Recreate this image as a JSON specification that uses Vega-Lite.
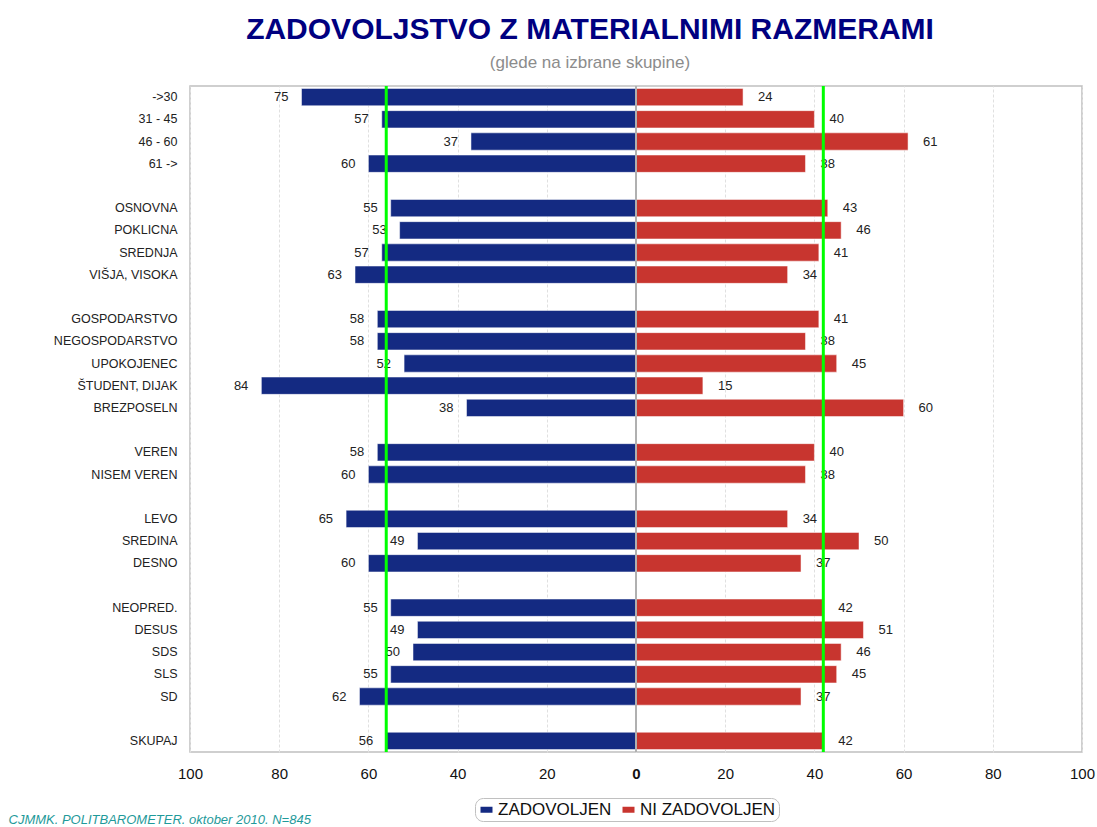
{
  "$schema": "https://vega.github.io/schema/vega-lite/v6.json",
  "width": 892,
  "height": 666,
  "autosize": {"type": "none"},
  "padding": {"left": 190, "top": 86, "right": 15, "bottom": 75},
  "background": "white",
  "config": {
    "view": {"stroke": "#c0c0c0", "strokeWidth": 1.5},
    "font": "Liberation Sans"
  },
  "title": {
    "text": "ZADOVOLJSTVO Z MATERIALNIMI RAZMERAMI",
    "subtitle": "(glede na izbrane skupine)",
    "anchor": "middle",
    "dx": -46,
    "fontSize": 30,
    "font": "Liberation Sans",
    "fontWeight": "bold",
    "color": "#000080",
    "subtitleFont": "Liberation Sans",
    "subtitleFontSize": 17,
    "subtitleColor": "#8c8c8c",
    "subtitlePadding": 10,
    "offset": 14
  },
  "data": {
    "values": [
      {"cat": "->30", "s": "ZADOVOLJEN", "x": -75, "v": 75},
      {"cat": "->30", "s": "NI ZADOVOLJEN", "x": 24, "v": 24},
      {"cat": "31 - 45", "s": "ZADOVOLJEN", "x": -57, "v": 57},
      {"cat": "31 - 45", "s": "NI ZADOVOLJEN", "x": 40, "v": 40},
      {"cat": "46 - 60", "s": "ZADOVOLJEN", "x": -37, "v": 37},
      {"cat": "46 - 60", "s": "NI ZADOVOLJEN", "x": 61, "v": 61},
      {"cat": "61 ->", "s": "ZADOVOLJEN", "x": -60, "v": 60},
      {"cat": "61 ->", "s": "NI ZADOVOLJEN", "x": 38, "v": 38},
      {"cat": "OSNOVNA", "s": "ZADOVOLJEN", "x": -55, "v": 55},
      {"cat": "OSNOVNA", "s": "NI ZADOVOLJEN", "x": 43, "v": 43},
      {"cat": "POKLICNA", "s": "ZADOVOLJEN", "x": -53, "v": 53},
      {"cat": "POKLICNA", "s": "NI ZADOVOLJEN", "x": 46, "v": 46},
      {"cat": "SREDNJA", "s": "ZADOVOLJEN", "x": -57, "v": 57},
      {"cat": "SREDNJA", "s": "NI ZADOVOLJEN", "x": 41, "v": 41},
      {"cat": "VIŠJA, VISOKA", "s": "ZADOVOLJEN", "x": -63, "v": 63},
      {"cat": "VIŠJA, VISOKA", "s": "NI ZADOVOLJEN", "x": 34, "v": 34},
      {"cat": "GOSPODARSTVO", "s": "ZADOVOLJEN", "x": -58, "v": 58},
      {"cat": "GOSPODARSTVO", "s": "NI ZADOVOLJEN", "x": 41, "v": 41},
      {"cat": "NEGOSPODARSTVO", "s": "ZADOVOLJEN", "x": -58, "v": 58},
      {"cat": "NEGOSPODARSTVO", "s": "NI ZADOVOLJEN", "x": 38, "v": 38},
      {"cat": "UPOKOJENEC", "s": "ZADOVOLJEN", "x": -52, "v": 52},
      {"cat": "UPOKOJENEC", "s": "NI ZADOVOLJEN", "x": 45, "v": 45},
      {"cat": "ŠTUDENT, DIJAK", "s": "ZADOVOLJEN", "x": -84, "v": 84},
      {"cat": "ŠTUDENT, DIJAK", "s": "NI ZADOVOLJEN", "x": 15, "v": 15},
      {"cat": "BREZPOSELN", "s": "ZADOVOLJEN", "x": -38, "v": 38},
      {"cat": "BREZPOSELN", "s": "NI ZADOVOLJEN", "x": 60, "v": 60},
      {"cat": "VEREN", "s": "ZADOVOLJEN", "x": -58, "v": 58},
      {"cat": "VEREN", "s": "NI ZADOVOLJEN", "x": 40, "v": 40},
      {"cat": "NISEM VEREN", "s": "ZADOVOLJEN", "x": -60, "v": 60},
      {"cat": "NISEM VEREN", "s": "NI ZADOVOLJEN", "x": 38, "v": 38},
      {"cat": "LEVO", "s": "ZADOVOLJEN", "x": -65, "v": 65},
      {"cat": "LEVO", "s": "NI ZADOVOLJEN", "x": 34, "v": 34},
      {"cat": "SREDINA", "s": "ZADOVOLJEN", "x": -49, "v": 49},
      {"cat": "SREDINA", "s": "NI ZADOVOLJEN", "x": 50, "v": 50},
      {"cat": "DESNO", "s": "ZADOVOLJEN", "x": -60, "v": 60},
      {"cat": "DESNO", "s": "NI ZADOVOLJEN", "x": 37, "v": 37},
      {"cat": "NEOPRED.", "s": "ZADOVOLJEN", "x": -55, "v": 55},
      {"cat": "NEOPRED.", "s": "NI ZADOVOLJEN", "x": 42, "v": 42},
      {"cat": "DESUS", "s": "ZADOVOLJEN", "x": -49, "v": 49},
      {"cat": "DESUS", "s": "NI ZADOVOLJEN", "x": 51, "v": 51},
      {"cat": "SDS", "s": "ZADOVOLJEN", "x": -50, "v": 50},
      {"cat": "SDS", "s": "NI ZADOVOLJEN", "x": 46, "v": 46},
      {"cat": "SLS", "s": "ZADOVOLJEN", "x": -55, "v": 55},
      {"cat": "SLS", "s": "NI ZADOVOLJEN", "x": 45, "v": 45},
      {"cat": "SD", "s": "ZADOVOLJEN", "x": -62, "v": 62},
      {"cat": "SD", "s": "NI ZADOVOLJEN", "x": 37, "v": 37},
      {"cat": "SKUPAJ", "s": "ZADOVOLJEN", "x": -56, "v": 56},
      {"cat": "SKUPAJ", "s": "NI ZADOVOLJEN", "x": 42, "v": 42}
    ]
  },
  "layer": [
    {
      "mark": {"type": "bar", "stroke": "white", "strokeWidth": 0.5},
      "encoding": {
        "y": {
          "field": "cat", "type": "nominal",
          "scale": {"domain": ["->30", "31 - 45", "46 - 60", "61 ->", "_a", "OSNOVNA", "POKLICNA", "SREDNJA", "VIŠJA, VISOKA", "_b", "GOSPODARSTVO", "NEGOSPODARSTVO", "UPOKOJENEC", "ŠTUDENT, DIJAK", "BREZPOSELN", "_c", "VEREN", "NISEM VEREN", "_d", "LEVO", "SREDINA", "DESNO", "_e", "NEOPRED.", "DESUS", "SDS", "SLS", "SD", "_f", "SKUPAJ"], "paddingInner": 0.22, "paddingOuter": 0.11},
          "axis": {
            "title": null,
            "domain": false,
            "ticks": false,
            "labelPadding": 13,
            "labelFontSize": 12.5,
            "labelColor": "#222222",
            "labelFont": "Liberation Sans",
            "labelExpr": "substring(datum.value,0,1)=='_' ? '' : datum.value"
          }
        },
        "x": {
          "field": "x", "type": "quantitative",
          "scale": {"domain": [-100, 100], "nice": false},
          "axis": {
            "values": [-100, -80, -60, -40, -20, 0, 20, 40, 60, 80, 100],
            "labelExpr": "abs(datum.value)",
            "labelFlush": false,
            "domain": false,
            "ticks": false,
            "grid": true,
            "gridColor": "#e0e0e0",
            "gridDash": [3, 2],
            "labelFontSize": 15,
            "labelColor": "#111111",
            "labelPadding": 14,
            "labelFontWeight": {"condition": {"test": "datum.value == 0", "value": "bold"}, "value": "normal"},
            "title": "CJMMK. POLITBAROMETER. oktober 2010. N=845",
            "titleX": -182,
            "titleY": 71,
            "titleAlign": "left",
            "titleAnchor": "start",
            "titleBaseline": "alphabetic",
            "titleFontStyle": "italic",
            "titleFontWeight": "normal",
            "titleFontSize": 13,
            "titleColor": "#1f9a9a"
          }
        },
        "color": {
          "field": "s", "type": "nominal",
          "scale": {"domain": ["ZADOVOLJEN", "NI ZADOVOLJEN"], "range": ["#142a82", "#c8352f"]},
          "legend": {
            "title": null,
            "orient": "none",
            "legendX": 285,
            "legendY": 712,
            "direction": "horizontal",
            "symbolType": "M-1,-0.5H1V0.5H-1Z",
            "symbolSize": 144,
            "symbolStrokeWidth": 0,
            "labelFontSize": 17,
            "labelColor": "#111111",
            "labelFont": "Liberation Sans",
            "strokeColor": "#c0c0c0",
            "cornerRadius": 8,
            "padding": 3,
            "columnPadding": 8,
            "labelOffset": 3
          }
        }
      }
    },
    {
      "data": {"values": [{"x": 0}]},
      "mark": {"type": "rule", "color": "#b0b0b0", "strokeWidth": 2},
      "encoding": {"x": {"field": "x", "type": "quantitative"}}
    },
    {
      "transform": [{"filter": "datum.s == 'ZADOVOLJEN'"}],
      "mark": {"type": "text", "align": "right", "baseline": "middle", "dx": -13, "fontSize": 13, "color": "#222222"},
      "encoding": {
        "y": {"field": "cat", "type": "nominal", "scale": {"domain": ["->30", "31 - 45", "46 - 60", "61 ->", "_a", "OSNOVNA", "POKLICNA", "SREDNJA", "VIŠJA, VISOKA", "_b", "GOSPODARSTVO", "NEGOSPODARSTVO", "UPOKOJENEC", "ŠTUDENT, DIJAK", "BREZPOSELN", "_c", "VEREN", "NISEM VEREN", "_d", "LEVO", "SREDINA", "DESNO", "_e", "NEOPRED.", "DESUS", "SDS", "SLS", "SD", "_f", "SKUPAJ"], "paddingInner": 0.22, "paddingOuter": 0.11}},
        "x": {"field": "x", "type": "quantitative"},
        "text": {"field": "v", "type": "quantitative"}
      }
    },
    {
      "transform": [{"filter": "datum.s == 'NI ZADOVOLJEN'"}],
      "mark": {"type": "text", "align": "left", "baseline": "middle", "dx": 15, "fontSize": 13, "color": "#222222"},
      "encoding": {
        "y": {"field": "cat", "type": "nominal", "scale": {"domain": ["->30", "31 - 45", "46 - 60", "61 ->", "_a", "OSNOVNA", "POKLICNA", "SREDNJA", "VIŠJA, VISOKA", "_b", "GOSPODARSTVO", "NEGOSPODARSTVO", "UPOKOJENEC", "ŠTUDENT, DIJAK", "BREZPOSELN", "_c", "VEREN", "NISEM VEREN", "_d", "LEVO", "SREDINA", "DESNO", "_e", "NEOPRED.", "DESUS", "SDS", "SLS", "SD", "_f", "SKUPAJ"], "paddingInner": 0.22, "paddingOuter": 0.11}},
        "x": {"field": "x", "type": "quantitative"},
        "text": {"field": "v", "type": "quantitative"}
      }
    },
    {
      "transform": [{"filter": "datum.cat == 'SKUPAJ'"}],
      "mark": {"type": "rule", "color": "#00ff00", "strokeWidth": 3},
      "encoding": {"x": {"field": "x", "type": "quantitative"}}
    }
  ]
}
